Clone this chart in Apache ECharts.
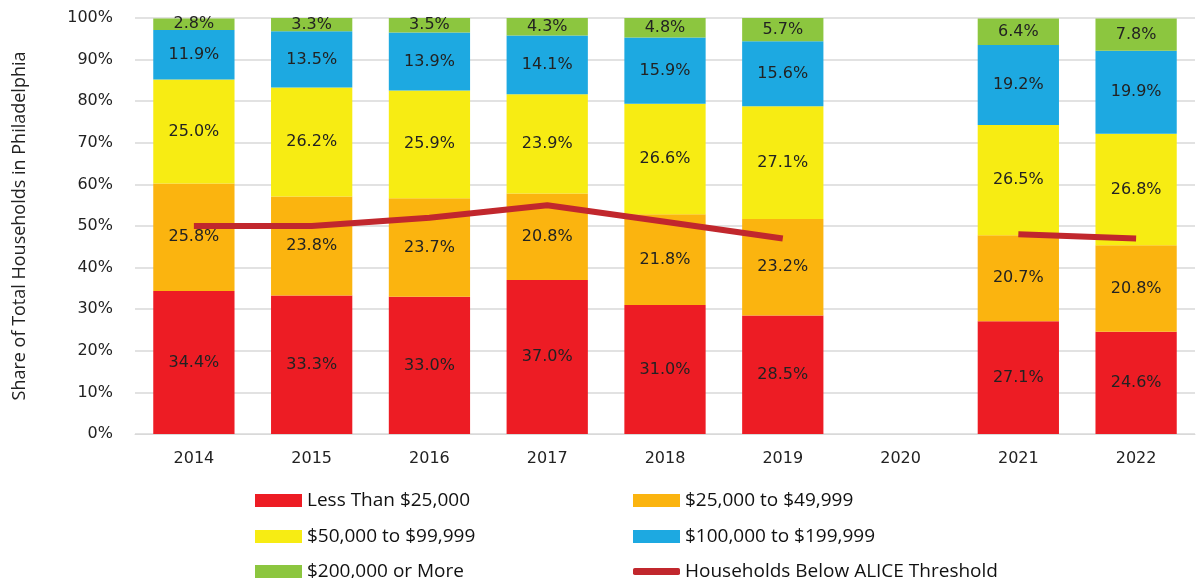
<!DOCTYPE html>
<html>
<head>
<meta charset="utf-8">
<script src="https://cdn.jsdelivr.net/npm/echarts@6/dist/echarts.min.js"></script>
<style>
  html, body { margin: 0; padding: 0; background: #fff; }
  #chart { width: 1204px; height: 578px; }
</style>
</head>
<body>
<div id="chart"></div>
<script>
const years = ['2014', '2015', '2016', '2017', '2018', '2019', '2020', '2021', '2022']
const under25k = [34.4, 33.3, 33.0, 37.0, 31.0, 28.5, null, 27.1, 24.6]
const from25to50k = [25.8, 23.8, 23.7, 20.8, 21.8, 23.2, null, 20.7, 20.8]
const from50to100k = [25.0, 26.2, 25.9, 23.9, 26.6, 27.1, null, 26.5, 26.8]
const from100to200k = [11.9, 13.5, 13.9, 14.1, 15.9, 15.6, null, 19.2, 19.9]
const over200k = [2.8, 3.3, 3.5, 4.3, 4.8, 5.7, null, 6.4, 7.8]
const belowAlice = [50, 50, 52, 55, 51, 47, null, 48, 47]
const yTicks = [0, 10, 20, 30, 40, 50, 60, 70, 80, 90, 100]

const labelFont = 'DejaVu Sans, Verdana, sans-serif'
const legendFont = '"Open Sans", sans-serif'

const barSeries = (name, data, color) => ({
  name,
  type: 'bar',
  stack: 'share',
  data,
  barWidth: '69%',
  itemStyle: { color },
  label: {
    show: true,
    position: 'inside',
    formatter: p => p.value.toFixed(1) + '%',
    color: '#222',
    fontSize: 16,
    fontFamily: labelFont
  },
  z: 2
})

// one legend per item, placed on a 2 x 3 grid
const legendItem = (name, left, rowY, lineIcon) => ({
  left,
  top: rowY - 11,
  itemWidth: 47,
  itemHeight: lineIcon ? 7 : 13,
  icon: lineIcon ? 'roundRect' : 'rect',
  itemGap: 0,
  textStyle: { fontSize: 19, fontFamily: legendFont, color: '#111' },
  data: [name]
})

const chart = echarts.init(document.getElementById('chart'))
chart.setOption({
  animation: false,
  grid: { left: 135, right: 9, top: 18, bottom: 144 },
  xAxis: {
    type: 'category',
    data: years,
    axisLine: { lineStyle: { color: '#d9d9d9' } },
    axisTick: { show: false },
    axisLabel: { color: '#222', fontSize: 16, fontFamily: labelFont, margin: 17 }
  },
  yAxis: {
    type: 'value',
    min: 0,
    max: 100,
    interval: 10,
    name: 'Share of Total Households in Philadelphia',
    nameLocation: 'middle',
    nameGap: 106,
    nameTextStyle: { color: '#222', fontSize: 18, fontFamily: legendFont },
    splitLine: { lineStyle: { color: '#d9d9d9', width: 1.5 } },
    axisLabel: {
      color: '#222',
      fontSize: 16,
      fontFamily: labelFont,
      margin: 22,
      formatter: v => (yTicks.includes(v) ? v + '%' : '')
    }
  },
  legend: [
    legendItem('Less Than $25,000', 250, 497),
    legendItem('$50,000 to $99,999', 250, 533),
    legendItem('$200,000 or More', 250, 568),
    legendItem('$25,000 to $49,999', 628, 497),
    legendItem('$100,000 to $199,999', 628, 533),
    legendItem('Households Below ALICE Threshold', 628, 568, true)
  ],
  series: [
    barSeries('Less Than $25,000', under25k, '#ED1C24'),
    barSeries('$25,000 to $49,999', from25to50k, '#FBB40F'),
    barSeries('$50,000 to $99,999', from50to100k, '#F7EC13'),
    barSeries('$100,000 to $199,999', from100to200k, '#1DA9E1'),
    barSeries('$200,000 or More', over200k, '#8CC63F'),
    {
      name: 'Households Below ALICE Threshold',
      type: 'line',
      data: belowAlice,
      connectNulls: false,
      symbol: 'none',
      lineStyle: { color: '#C1272D', width: 6 },
      itemStyle: { color: '#C1272D' },
      label: {
        show: true,
        position: 'top',
        distance: 9,
        formatter: p => p.value + '%',
        color: '#222',
        fontSize: 16,
        fontFamily: labelFont
      },
      z: 5
    }
  ]
})
</script>
</body>
</html>
